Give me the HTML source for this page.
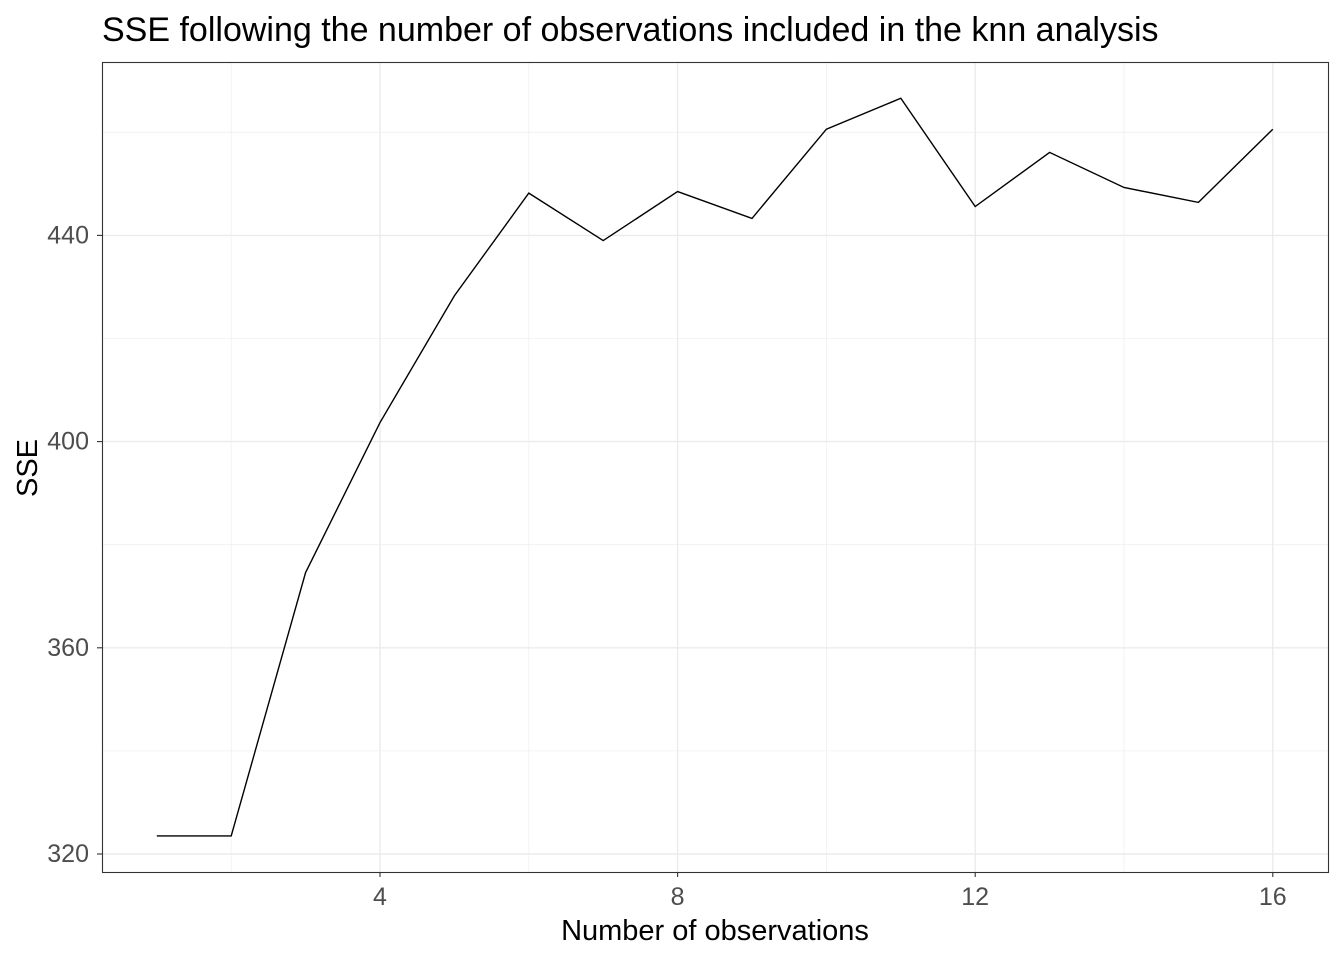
<!DOCTYPE html>
<html><head><meta charset="utf-8"><style>
body{margin:0;background:#fff;font-family:"Liberation Sans",Arial,sans-serif}
</style></head><body>
<svg width="1344" height="960" xmlns="http://www.w3.org/2000/svg">
<text x="102" y="41" font-size="34" fill="#000">SSE following the number of observations included in the knn analysis</text>
<g id="grid"></g>
<g id="ticks"></g>
<polyline id="line" fill="none" stroke="#000" stroke-width="1.4"/>
<rect x="102.5" y="62.5" width="1226" height="810" fill="none" stroke="#333" stroke-width="1.1"/>
<text x="715" y="940" font-size="29" text-anchor="middle">Number of observations</text>
<text transform="translate(37,468) rotate(-90)" font-size="29" text-anchor="middle">SSE</text>
</svg>
<script>
const xs=[1,2,3,4,5,6,7,8,9,10,11,12,13,14,15,16];
const sse=[323.5,323.5,374.6,403.7,428.3,448.2,439,448.5,443.3,460.6,466.6,445.6,456.1,449.3,446.4,460.6];
const xTicks=[4,8,12,16];
const yTicks=[320,360,400,440];
const xMinor=[2,6,10,14];
const yMinor=[340,380,420,460];
const X=v=>380+(v-4)*74.4;
const Y=v=>854-(v-320)*5.155;
const ns="http://www.w3.org/2000/svg";
const g=document.getElementById('grid'),t=document.getElementById('ticks');
function ln(p,x1,y1,x2,y2,c,w){const l=document.createElementNS(ns,'line');l.setAttribute('x1',x1);l.setAttribute('y1',y1);l.setAttribute('x2',x2);l.setAttribute('y2',y2);l.setAttribute('stroke',c);l.setAttribute('stroke-width',w);p.appendChild(l);return l;}
xMinor.forEach(v=>{const l=ln(g,X(v),62,X(v),872,'#f0f0f0',0.8);

});
yMinor.forEach(v=>{const l=ln(g,102,Y(v),1329,Y(v),'#f0f0f0',0.8);

});
xTicks.forEach(v=>{const l=ln(g,X(v),62,X(v),872,'#ebebeb',1.4);


ln(t,X(v),872,X(v),877,'#333',1.1);
const s=document.createElementNS(ns,'text');s.setAttribute('x',X(v));s.setAttribute('y',905);s.setAttribute('font-size','25');s.setAttribute('fill','#4d4d4d');s.setAttribute('text-anchor','middle');s.textContent=v;


t.appendChild(s);});
yTicks.forEach(v=>{const l=ln(g,102,Y(v),1329,Y(v),'#ebebeb',1.4);


ln(t,97,Y(v),102,Y(v),'#333',1.1);
const s=document.createElementNS(ns,'text');s.setAttribute('x',89);s.setAttribute('y',Y(v)+8);s.setAttribute('font-size','25');s.setAttribute('fill','#4d4d4d');s.setAttribute('text-anchor','end');s.textContent=v;


t.appendChild(s);});
document.getElementById('line').setAttribute('points',xs.map((x,i)=>X(x)+','+Y(sse[i])).join(' '));
</script>
</body></html>
